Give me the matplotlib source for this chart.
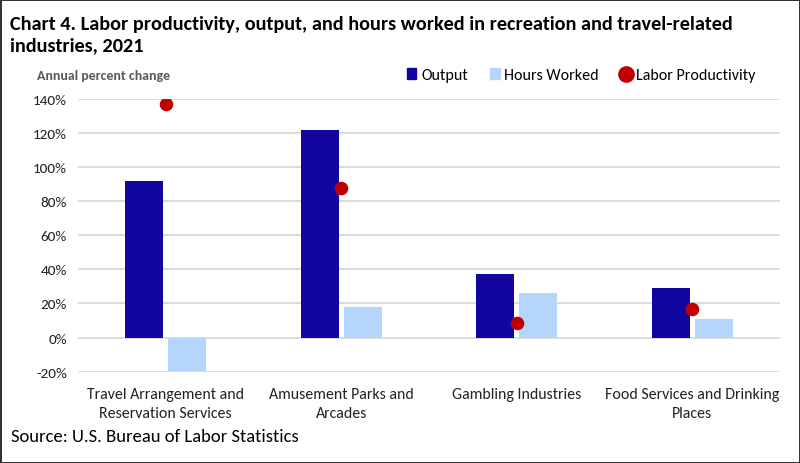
import matplotlib.pyplot as plt
import numpy as np
from matplotlib.lines import Line2D
from matplotlib.patches import Patch

plt.rcParams['font.family'] = ['Carlito', 'Lato', 'DejaVu Sans']

categories = ['Travel Arrangement and\nReservation Services', 'Amusement Parks and\nArcades',
              'Gambling Industries', 'Food Services and Drinking\nPlaces']
output = [91.7, 121.8, 37.4, 29.1]
hours_worked = [-19.5, 18.0, 26.4, 10.6]
labor_productivity = [136.9, 87.6, 8.6, 16.8]
y_ticks = [-20, 0, 20, 40, 60, 80, 100, 120, 140]

c_output = '#11069f'
c_hours = '#b4d5fc'
c_prod = '#c00000'

fig = plt.figure(figsize=(8, 4.64), dpi=100)
ax = fig.add_axes([0.0975, 0.1968, 0.8775, 0.5882])

x = np.arange(len(categories))
width = 0.217
ax.bar(x - 0.1225, output, width, color=c_output, zorder=2)
ax.bar(x + 0.1225, hours_worked, width, color=c_hours, zorder=2)
ax.scatter(x, labor_productivity, s=95, color=c_prod, zorder=3, linewidths=0)

ax.set_xlim(-0.5, 3.5)
ax.set_ylim(-20, 140)
ax.set_yticks(y_ticks)
ax.set_yticklabels([f'{v}%' for v in y_ticks], fontsize=11, color='#222222')
ax.set_xticks(x)
ax.set_xticklabels(categories, fontsize=11.4, color='#222222', linespacing=1.5)
ax.tick_params(length=0, pad=8)
ax.tick_params(axis='x', pad=11)
ax.grid(axis='y', color='#d9d9d9', linewidth=1.3, zorder=0)
for s in ax.spines.values():
    s.set_visible(False)

# Title, axis caption and source
fig.text(0.0125, 0.965, 'Chart 4. Labor productivity, output, and hours worked in recreation and travel-related\nindustries, 2021',
         fontsize=14.6, fontweight='bold', va='top', ha='left', linespacing=1.25)
fig.text(0.046, 0.836, 'Annual percent change', fontsize=10, fontweight='bold', color='#595959', va='center')
fig.text(0.014, 0.058, 'Source: U.S. Bureau of Labor Statistics', fontsize=13.4, va='center')

handles = [Patch(color=c_output), Patch(color=c_hours),
           Line2D([], [], marker='o', linestyle='', markersize=11, color=c_prod)]
fig.legend(handles, ['Output', 'Hours Worked', 'Labor Productivity'], loc='center right',
           bbox_to_anchor=(0.962, 0.836), ncol=3, frameon=False, fontsize=11.5,
           handlelength=0.6, handleheight=0.6, handletextpad=0.3, columnspacing=1.4)

fig.patch.set_edgecolor('#333333')
fig.patch.set_linewidth(2)

plt.savefig('out.png', dpi=100, edgecolor=fig.get_edgecolor())
